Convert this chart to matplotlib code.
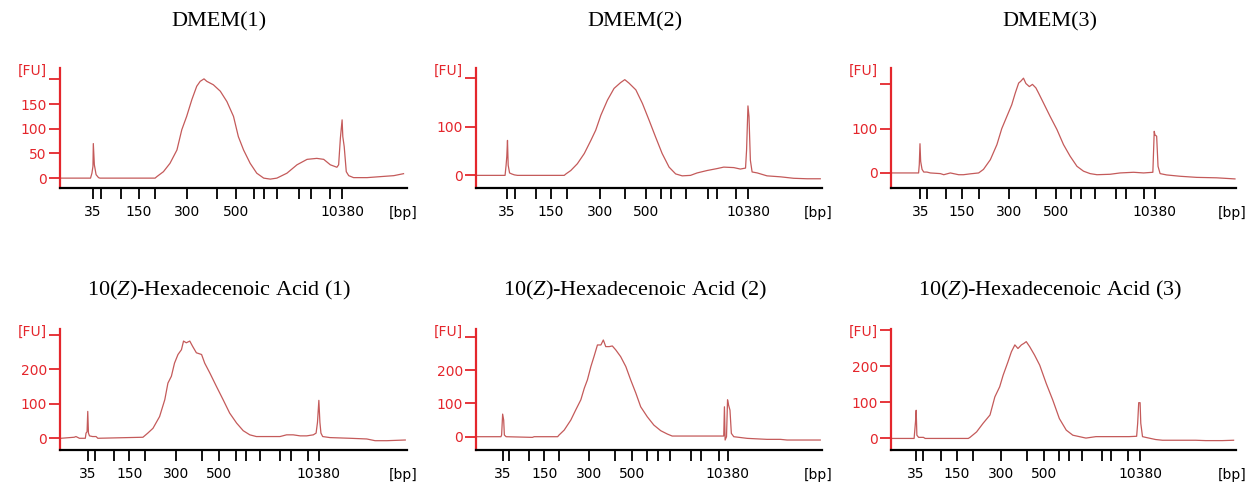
import matplotlib
matplotlib.use("Agg")
import matplotlib.pyplot as plt

plt.rcParams['font.family'] = 'DejaVu Sans'
plt.rcParams['mathtext.fontset'] = 'custom'
plt.rcParams['mathtext.rm'] = 'Liberation Serif'
plt.rcParams['mathtext.it'] = 'Liberation Serif:italic'

# ladder sizes (bp) and which ones get a label
ladder_bp = [35, 50, 100, 150, 200, 300, 400, 500, 600, 700, 1000, 2000, 3000, 7000, 10380]
labelled_bp = [35, 150, 300, 500, 10380]

titles = ["DMEM(1)", "DMEM(2)", "DMEM(3)",
          "10($\\mathit{Z}$)-Hexadecenoic Acid (1)",
          "10($\\mathit{Z}$)-Hexadecenoic Acid (2)",
          "10($\\mathit{Z}$)-Hexadecenoic Acid (3)"]

# ladder tick positions on each run's migration axis (0-100)
ladder_pos1 = [9.4, 11.8, 17.5, 22.7, 27.5, 36.5, 45.2, 50.6, 55.8, 58.7, 62.5, 69.0, 72.4, 77.9, 81.25]
ladder_pos2 = [8.9, 11.25, 17.3, 21.6, 26.2, 35.8, 43.1, 49.2, 53.6, 56.5, 60.6, 67.0, 69.7, 75.0, 78.6]
ladder_pos3 = [8.5, 10.4, 16.0, 20.6, 25.5, 34.1, 42.1, 47.7, 52.1, 55.0, 59.2, 65.3, 68.1, 73.2, 76.5]
ladder_pos4 = [8.0, 10.1, 15.5, 20.0, 24.6, 33.5, 41.0, 45.9, 50.6, 53.5, 57.6, 63.4, 66.5, 71.6, 74.5]
ladder_pos5 = [7.7, 9.6, 15.4, 19.7, 24.0, 32.7, 40.1, 45.2, 49.5, 52.6, 56.1, 62.2, 64.9, 70.2, 72.8]
ladder_pos6 = [7.3, 9.4, 14.5, 19.0, 23.7, 32.0, 39.5, 44.3, 48.8, 51.7, 55.3, 61.2, 63.7, 68.8, 72.2]

# electropherogram traces (migration position, FU)
t1 = [0.2, 8.8, 9.2, 9.5, 9.6, 9.9, 10.4, 11.1, 11.5, 27.4, 27.9, 29.8, 31.7, 33.7, 35.1, 36.5, 38.0, 39.4,
      40.4, 41.5, 42.3, 44.2, 46.2, 48.1, 50.0, 51.4, 52.9, 54.8, 56.7, 58.7, 60.6, 62.5, 65.4, 68.3, 71.2,
      74.0, 76.0, 77.9, 79.8, 80.3, 80.8, 81.3, 81.5, 81.9, 82.5, 83.2, 84.6, 88.5, 92.3, 96.2, 99.0]
fu1 = [0, 0, 10, 24, 70, 27, 7, 1, 0, 0, 3, 13, 30, 57, 98, 125, 159, 186,
       196, 201, 196, 189, 176, 155, 125, 84, 57, 30, 10, 0, -2, 0, 10, 27, 38,
       40, 38, 27, 22, 27, 81, 118, 84, 64, 13, 5, 1, 1, 3, 5, 9]

t2 = [0.3, 8.4, 8.7, 8.9, 9.1, 9.3, 9.7, 10.3, 11.1, 12.0, 25.5, 26.0, 27.4, 29.3, 31.3, 33.2, 34.6, 36.1,
      38.0, 39.9, 41.8, 43.0, 44.2, 46.2, 48.1, 50.0, 51.9, 53.8, 55.8, 57.7, 59.6, 62.0, 63.9, 66.8, 69.7,
      71.6, 74.5, 76.4, 77.9, 78.2, 78.6, 78.9, 79.3, 79.8, 81.3, 84.1, 88.0, 91.8, 95.7, 99.5]
fu2 = [0, 0, 21, 39, 72, 21, 5, 3, 1, 0, 0, 3, 10, 24, 45, 72, 93, 124,
       155, 179, 191, 197, 190, 176, 148, 114, 79, 45, 17, 3, -1, 0, 5, 10, 14,
       17, 16, 13, 15, 52, 143, 121, 31, 7, 5, -1, -3, -6, -7, -7]

t3 = [0.3, 8.0, 8.2, 8.4, 8.6, 9.0, 9.5, 10.4, 11.4, 14.3, 15.3, 17.2, 19.6, 21.0, 23.0, 25.4, 26.8, 28.8,
      30.7, 32.1, 33.6, 35.0, 36.0, 37.0, 37.6, 38.4, 39.1, 40.1, 41.0, 42.0, 42.8, 44.2, 46.1, 48.1, 50.0,
      51.9, 53.9, 55.8, 57.7, 59.7, 63.5, 66.4, 70.3, 73.2, 75.9, 76.3, 76.5, 77.0, 77.4, 78.0, 79.9, 83.8,
      88.6, 94.4, 99.7]
fu3 = [0, 0, 19, 66, 26, 8, 2, 2, 0, -1.5, -4, 0, -4, -4, -2, 0, 8, 30,
       64, 100, 128, 154, 180, 203, 207, 214, 202, 195, 200, 192, 180, 158, 128, 98, 64,
       38, 15, 4, -1.5, -4, -3, 0, 1.5, 0, 1.5, 94, 86, 83, 15, -1.5, -4.5, -7.5,
       -10, -11, -13.5]

t4 = [0.3, 4.1, 4.6, 5.6, 7.3, 7.5, 7.8, 8.0, 8.2, 8.5, 9.4, 10.4, 10.9, 23.9, 25.3, 26.8, 28.7, 30.2,
      31.1, 32.1, 33.0, 34.0, 35.0, 35.6, 36.4, 37.4, 38.2, 39.3, 40.8, 41.7, 43.2, 45.1, 47.0, 48.9, 50.9,
      52.8, 54.7, 56.6, 59.5, 63.4, 65.3, 67.2, 69.2, 71.1, 73.0, 73.8, 74.2, 74.6, 74.9, 75.2, 75.7, 77.8,
      83.6, 88.4, 90.8, 94.2, 99.5]
fu4 = [0, 3, 5, 0, 0, 15, 19, 78, 15, 7, 5, 5, 0, 3, 15, 29, 63, 112,
       160, 180, 218, 243, 257, 282, 277, 282, 267, 248, 243, 218, 189, 150, 112, 73, 44,
       22, 10, 5, 5, 5, 10, 10, 7, 7, 10, 15, 46, 110, 46, 15, 5, 2,
       0, -2, -7, -7, -5]

t5 = [0.3, 7.2, 7.4, 7.7, 8.0, 8.2, 8.7, 16.3, 16.8, 23.6, 24.0, 25.5, 27.4, 28.8, 30.3, 31.3, 32.2, 33.2,
      34.1, 35.1, 36.1, 36.8, 37.5, 38.5, 39.4, 40.4, 41.8, 43.3, 44.7, 46.2, 47.6, 49.5, 51.4, 53.4, 55.3,
      56.7, 61.1, 65.9, 70.7, 71.6, 71.8, 72.0, 72.4, 72.7, 73.0, 73.4, 73.8, 74.5, 78.4, 84.1, 88.0, 89.9,
      94.7, 99.5]
fu5 = [0, 0, 5, 68, 50, 5, 0, -2, 0, 0, 5, 20, 50, 80, 111, 146, 171, 211,
       241, 276, 276, 291, 271, 271, 273, 261, 241, 211, 171, 131, 90, 60, 35, 18, 8,
       2, 2, 2, 2, 2, 90, -10, 0, 111, 95, 80, 10, 0, -5, -8, -8, -10,
       -10, -10]

t6 = [0.3, 6.7, 6.9, 7.1, 7.3, 7.5, 8.0, 9.4, 9.9, 22.4, 22.9, 24.8, 26.7, 28.7, 30.1, 31.5, 32.5, 33.9,
      34.9, 35.9, 36.8, 37.8, 38.5, 39.2, 40.2, 41.6, 43.1, 45.0, 46.9, 48.8, 50.8, 52.7, 54.6, 56.5, 59.4,
      64.2, 69.0, 71.2, 71.5, 71.8, 72.2, 72.4, 72.9, 73.8, 76.7, 78.7, 83.5, 88.3, 91.2, 96.0, 99.3]
fu6 = [0, 0, 23, 46, 78, 9, 3, 3, 0, 0, 3, 18, 42, 65, 115, 143, 175, 212,
       240, 259, 249, 259, 263, 268, 254, 231, 203, 152, 106, 55, 23, 9, 5, 1, 5,
       5, 5, 6, 42, 99, 99, 42, 5, 3, -3, -5, -5, -5, -6, -6, -5]

# y ticks and ranges
yticks_row1a = [0, 50, 100, 150, 200]
yticks_row1 = [0, 100, 200]
yticks_row2 = [0, 100, 200, 300]
ylims = [(-20, 223), (-26, 221), (-34, 237), (-34, 317), (-40, 324), (-32, 303)]

panels = [
    (t1, fu1, ladder_pos1, yticks_row1a),
    (t2, fu2, ladder_pos2, yticks_row1),
    (t3, fu3, ladder_pos3, yticks_row1),
    (t4, fu4, ladder_pos4, yticks_row2),
    (t5, fu5, ladder_pos5, yticks_row2),
    (t6, fu6, ladder_pos6, yticks_row2),
]

W, H = 1253, 482
red = '#e4262c'
trace_col = '#c45a5a'

lefts = [60, 476, 891]
widths = [347, 346, 345]
row_top = [68, 329]
row_bot = [188, 450]
title_y = [22, 290]

fig = plt.figure(figsize=(W / 100, H / 100), dpi=100)

for i, (t, fu, lpos, yt) in enumerate(panels):
    r, c = divmod(i, 3)
    ax = fig.add_axes([lefts[c] / W, 1 - row_bot[r] / H,
                       widths[c] / W, (row_bot[r] - row_top[r]) / H])
    ax.plot(t, fu, color=trace_col, lw=0.9)
    ax.set_xlim(0, 100)
    ax.set_ylim(*ylims[i])

    for s in ['top', 'right']:
        ax.spines[s].set_visible(False)
    ax.spines['left'].set_color(red)
    ax.spines['left'].set_linewidth(1.6)
    ax.spines['bottom'].set_color('black')
    ax.spines['bottom'].set_linewidth(1.6)

    ax.set_xticks(lpos)
    ax.set_xticklabels([str(b) if b in labelled_bp else '' for b in ladder_bp])
    ax.set_yticks(yt)
    ax.set_yticklabels([str(v) for v in yt[:-1]] + [''])

    ax.tick_params(axis='y', colors=red, length=8, width=1.3, labelsize=10, pad=1.5)
    ax.tick_params(axis='x', colors='black', length=8, width=1.3, labelsize=10, pad=4)

    ax.annotate('[FU]', xy=(0, 1), xycoords='axes fraction', xytext=(-9.5, -1.8),
                textcoords='offset points', ha='right', va='center', color=red, fontsize=10)
    ax.annotate('[bp]', xy=(1, 0), xycoords='axes fraction', xytext=(7.5, -18),
                textcoords='offset points', ha='right', va='center', color='black', fontsize=10)

    fig.text((lefts[c] + 159) / W, 1 - title_y[r] / H, titles[i], ha='center', va='center',
             fontsize=16, family='Liberation Serif')

fig.savefig('out.png', dpi=100)
